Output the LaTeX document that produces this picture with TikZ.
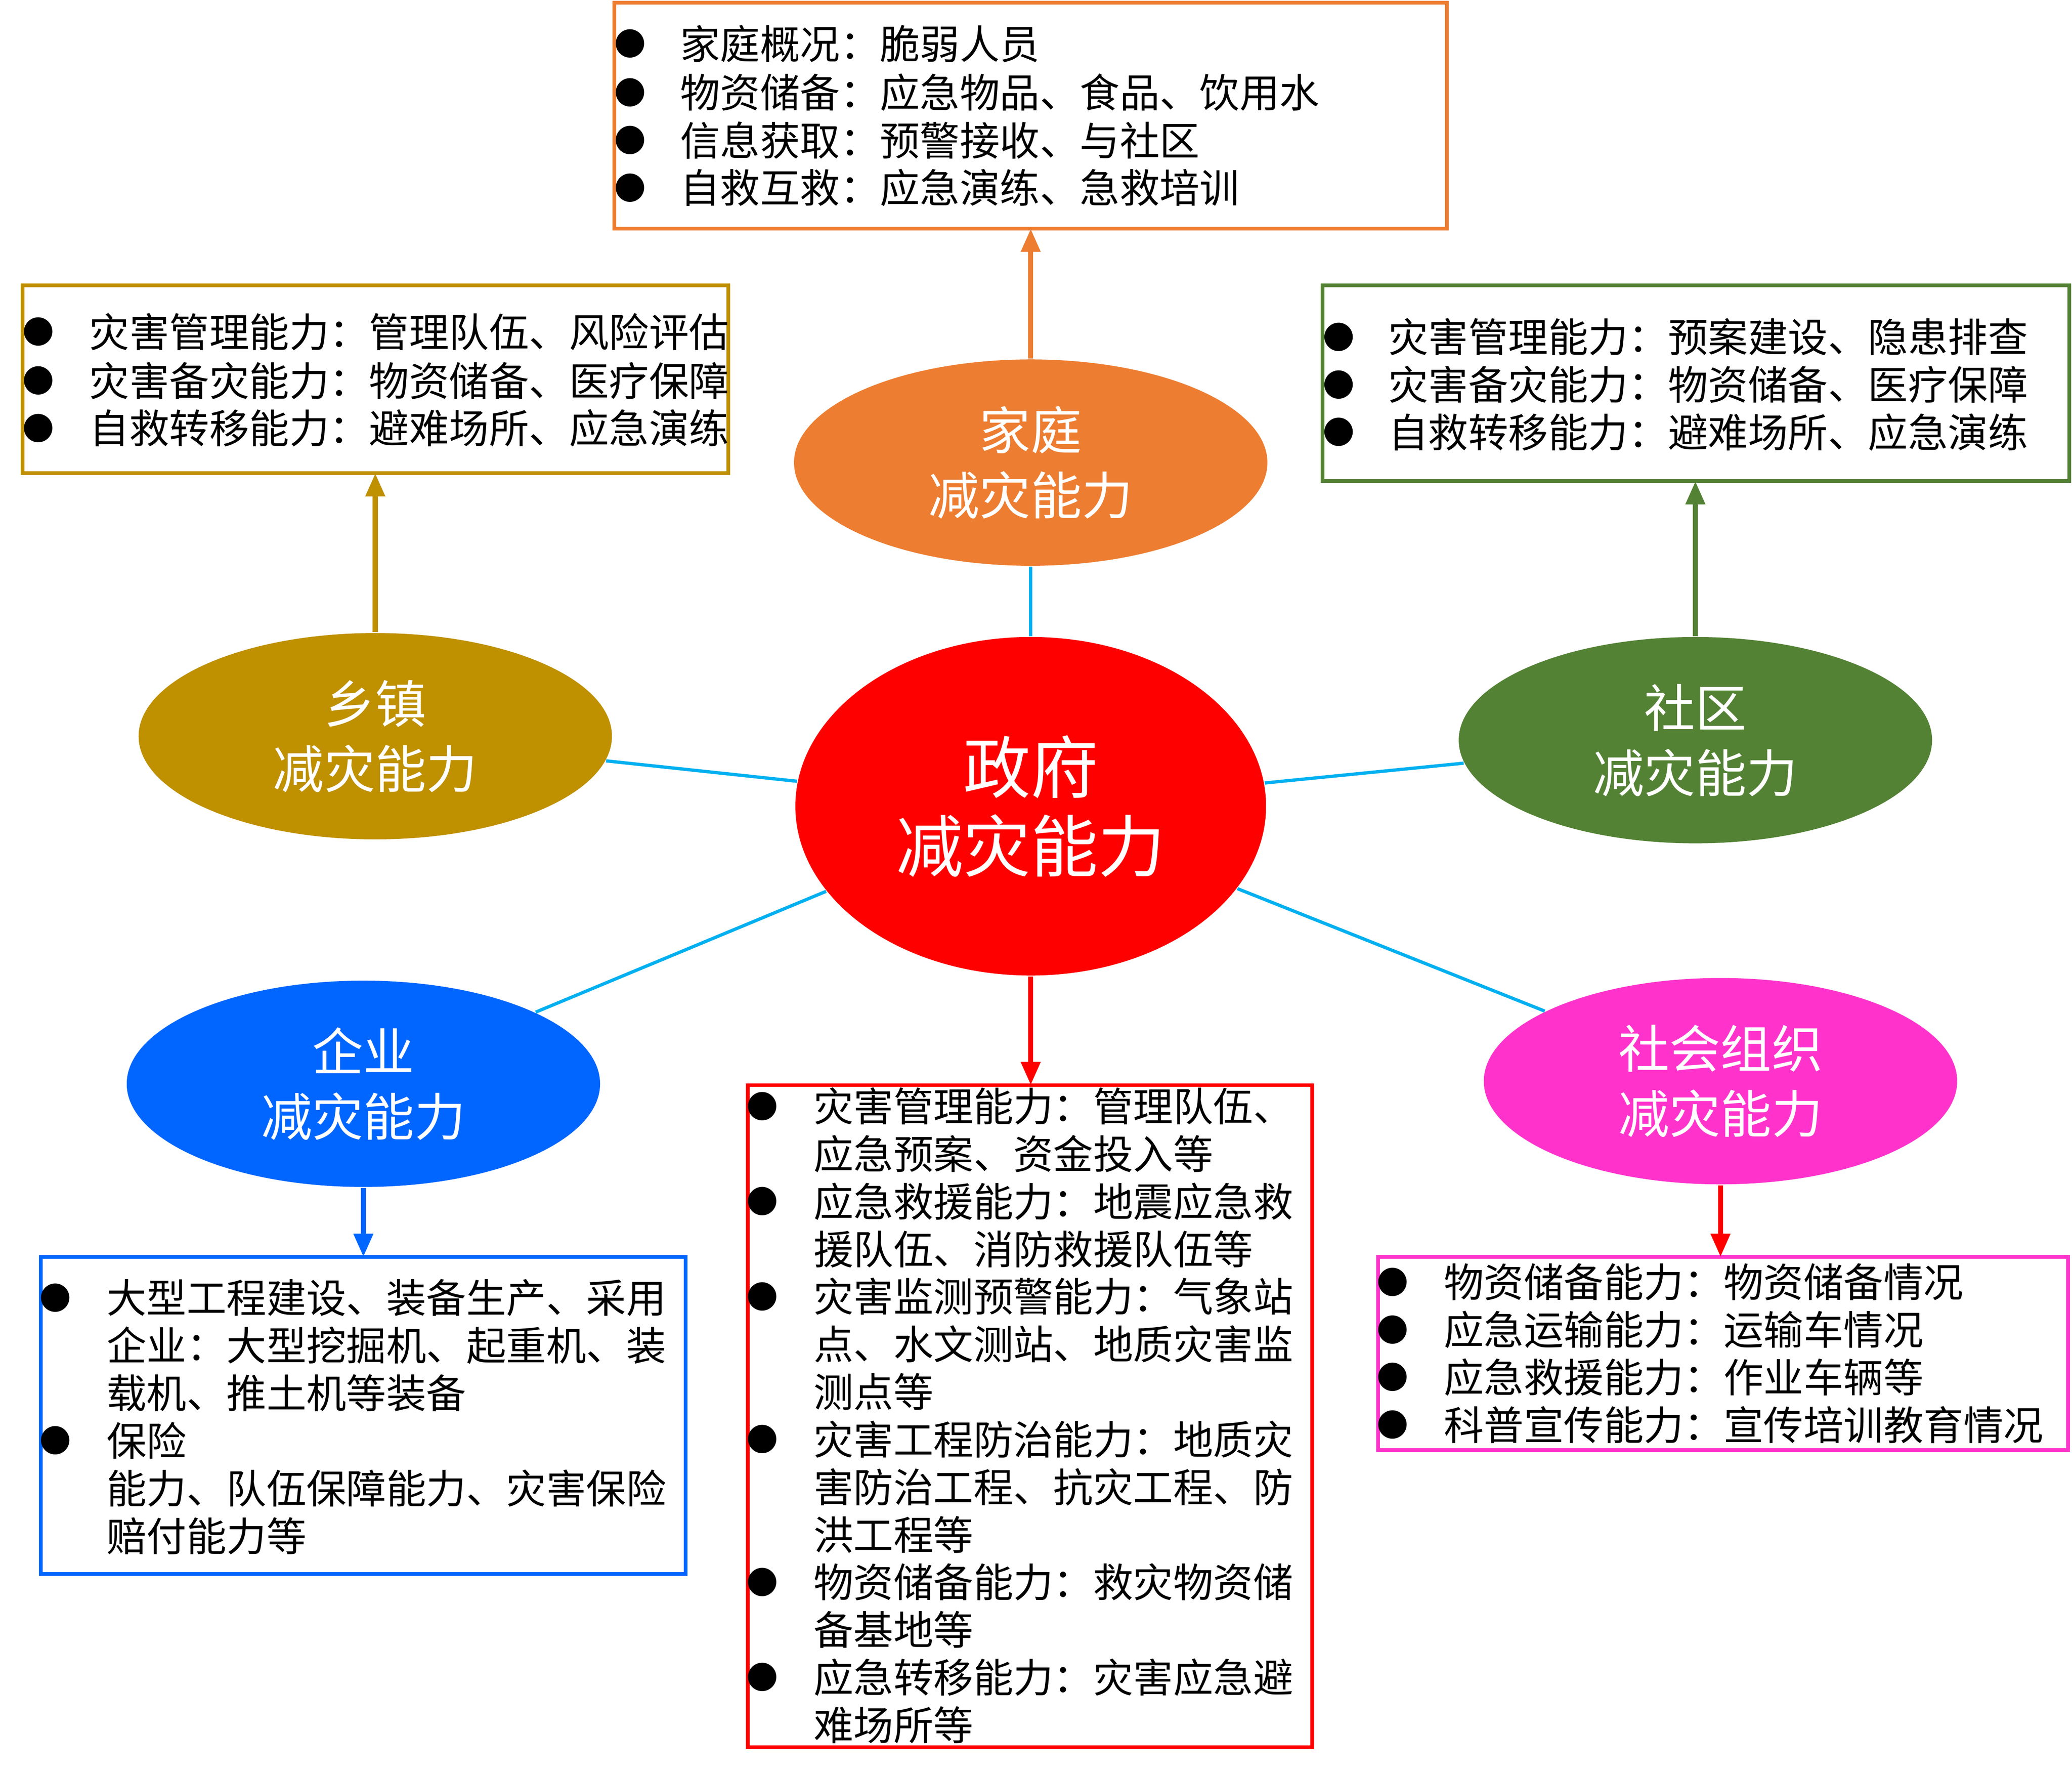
\documentclass[tikz,border=0pt]{standalone}
\usepackage{fontspec}
\setmainfont{Noto Sans CJK SC}
\newfontfamily\dejavu{DejaVu Sans}
\usetikzlibrary{shapes.geometric,arrows.meta}
\definecolor{cOr}{HTML}{ED7D31}
\definecolor{cGd}{HTML}{BF9000}
\definecolor{cGr}{HTML}{548235}
\definecolor{cBl}{HTML}{0066FF}
\definecolor{cMg}{HTML}{FF33CC}
\definecolor{cCy}{HTML}{00B0F0}
\tikzset{
 ell/.style={ellipse,minimum width=3.58cm,minimum height=1.56cm,inner sep=0pt,text=white,align=center,font=\fontsize{11}{14}\selectfont},
 box/.style={line width=0.8pt},
 tx/.style={anchor=west,inner sep=0pt,font=\fontsize{8.6}{10}\selectfont},
 bl/.style={inner sep=0pt,font=\dejavu\fontsize{8}{10}\selectfont},
 con/.style={cCy,line width=0.7pt},
 arr/.style={line width=1.1pt,-{Triangle[length=5pt,width=4pt]}},
}
\begin{document}
\begin{tikzpicture}[x=0.01cm,y=-0.01cm]
\useasboundingbox (0,0) rectangle (1568,1342);
% ellipses
\node[ell,fill=red,minimum width=3.56cm,minimum height=2.56cm,font=\fontsize{14.5}{18}\selectfont] (gov) at (780,610) {政府\\[-1pt]减灾能力};
\node[ell,fill=cOr] (fam) at (780,350) {家庭\\减灾能力};
\node[ell,fill=cGd] (town) at (284,557) {乡镇\\减灾能力};
\node[ell,fill=cGr] (comm) at (1283,560) {社区\\减灾能力};
\node[ell,fill=cBl] (ent) at (275,820) {企业\\减灾能力};
\node[ell,fill=cMg] (soc) at (1302,818) {社会组织\\减灾能力};
% connectors
\draw[con] (gov) -- (fam);
\draw[con] (gov) -- (town);
\draw[con] (gov) -- (comm);
\draw[con] (gov) -- (ent);
\draw[con] (gov) -- (soc);
% boxes
\draw[box,cOr] (465,2) rectangle (1095,173); \coordinate (bt) at (780,173);
\draw[box,cGd] (17,216) rectangle (551,358); \coordinate (bl) at (284,358);
\draw[box,cGr] (1001,216) rectangle (1566,364); \coordinate (br) at (1283,364);
\draw[box,red] (566,821) rectangle (993,1322); \coordinate (bc) at (780,821);
\draw[box,cBl] (31,951) rectangle (519,1191); \coordinate (be) at (275,951);
\draw[box,cMg] (1043,951) rectangle (1565,1097); \coordinate (bs) at (1302,951);
% arrows
\draw[arr,cOr] (fam) -- (bt);
\draw[arr,cGd] (town) -- (bl);
\draw[arr,cGr] (comm) -- (br);
\draw[arr,red] (gov) -- (bc);
\draw[arr,cBl] (ent) -- (be);
\draw[arr,red] (soc) -- (bs);
% top box
\foreach \y/\t [count=\i] in {33/家庭概况：脆弱人员,70/物资储备：应急物品、食品、饮用水,106/信息获取：预警接收、与社区/村联系方式,142/自救互救：应急演练、急救培训}{
 \node[bl] (tb\i) at (477,\y) {●}; \node[tx] (tt\i) at (514,\y) {\t};}
% left box
\foreach \y/\t [count=\i] in {251/灾害管理能力：管理队伍、风险评估,288/灾害备灾能力：物资储备、医疗保障,324/自救转移能力：避难场所、应急演练}{
 \node[bl] (lb\i) at (29,\y) {●}; \node[tx] (lt\i) at (67,\y) {\t};}
% right box
\foreach \y/\t [count=\i] in {255/灾害管理能力：预案建设、隐患排查,291/灾害备灾能力：物资储备、医疗保障,327/自救转移能力：避难场所、应急演练}{
 \node[bl] (rb\i) at (1013,\y) {●}; \node[tx] (rt\i) at (1050,\y) {\t};}
% social box
\foreach \y/\t [count=\i] in {970/物资储备能力：物资储备情况,1006/应急运输能力：运输车情况,1042/应急救援能力：作业车辆等,1078/科普宣传能力：宣传培训教育情况}{
 \node[bl] (sb\i) at (1054,\y) {●}; \node[tx] (st\i) at (1092,\y) {\t};}
% enterprise box
\foreach \y in {982,1090}{\node[bl] at (42,\y) {●};}
\foreach \y/\t [count=\i] in {982/大型工程建设、装备生产、采用,1018/企业：大型挖掘机、起重机、装,1054/载机、推土机等装备,1090/保险/再保险企业：灾害保险参与,1126/能力、队伍保障能力、灾害保险,1162/赔付能力等}{
 \node[tx] (et\i) at (80,\y) {\t};}
% centre box
\foreach \y in {837,909,981,1089,1197,1269}{\node[bl] at (577,\y) {●};}
\foreach \y/\t [count=\i] in {837/灾害管理能力：管理队伍、,873/应急预案、资金投入等,909/应急救援能力：地震应急救,945/援队伍、消防救援队伍等,981/灾害监测预警能力：气象站,1017/点、水文测站、地质灾害监,1053/测点等,1089/灾害工程防治能力：地质灾,1125/害防治工程、抗灾工程、防,1161/洪工程等,1197/物资储备能力：救灾物资储,1233/备基地等,1269/应急转移能力：灾害应急避,1305/难场所等}{
 \node[tx] (ct\i) at (615,\y) {\t};}
\end{tikzpicture}
\end{document}
